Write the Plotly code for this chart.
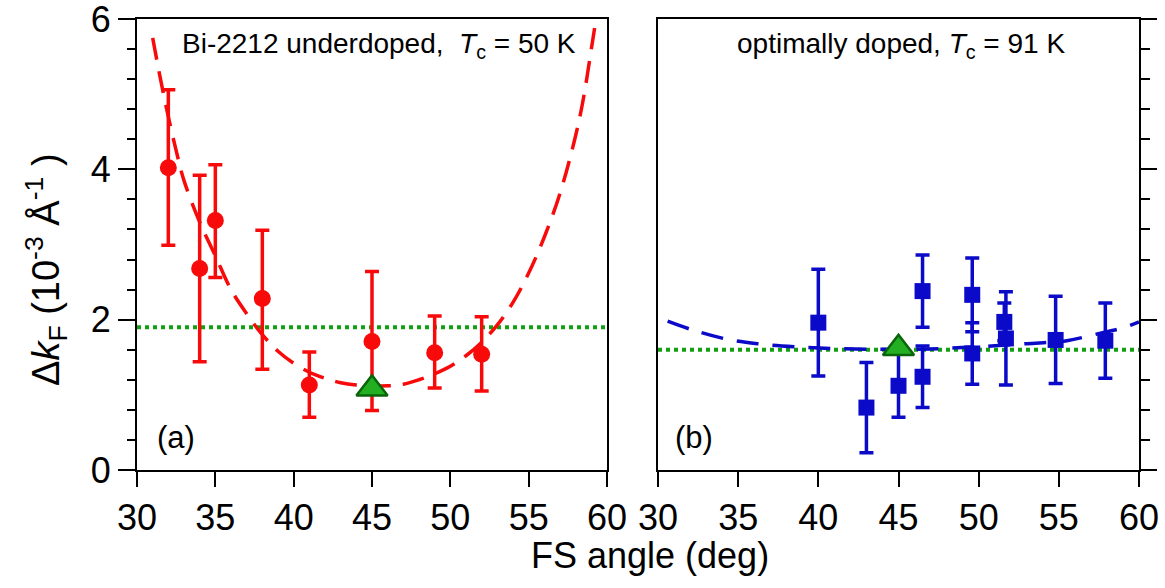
import plotly.graph_objects as go

# ---------------- data ----------------
# Panel (a): Bi-2212 underdoped, Tc = 50 K
ud_angle = [32, 34, 35, 38, 41, 45, 49, 52]
ud_dk = [4.02, 2.68, 3.32, 2.28, 1.13, 1.71, 1.56, 1.54]
ud_err_plus = [1.04, 1.24, 0.74, 0.91, 0.44, 0.93, 0.49, 0.50]
ud_err_minus = [1.03, 1.24, 0.76, 0.94, 0.43, 0.92, 0.47, 0.49]
ud_node_angle = [45]
ud_node_dk = [1.08]
ud_level = [1.9, 1.9]
ud_fit_angle = [31.0, 31.5, 32.0, 32.5, 33.0, 34.0, 35.0, 36.0, 37.0, 38.0, 39.0,
                40.0, 41.0, 42.0, 43.0, 44.0, 45.0, 46.0, 47.0, 48.0, 49.0, 50.0,
                51.0, 52.0, 53.0, 54.0, 55.0, 56.0, 57.0, 58.0, 58.5, 59.0, 59.3]
ud_fit_dk = [5.75, 5.2, 4.7, 4.25, 3.85, 3.3, 2.85, 2.4, 2.08, 1.8, 1.58,
             1.42, 1.3, 1.22, 1.16, 1.13, 1.12, 1.12, 1.14, 1.2, 1.28, 1.38,
             1.52, 1.7, 1.93, 2.23, 2.62, 3.1, 3.68, 4.45, 4.95, 5.6, 6.0]

# Panel (b): optimally doped, Tc = 91 K
op_angle = [40, 43, 45, 46.5, 46.5, 49.6, 49.6, 51.6, 51.7, 54.8, 57.9]
op_dk = [1.96, 0.83, 1.12, 2.38, 1.24, 2.33, 1.55, 1.97, 1.75, 1.73, 1.72]
op_err = [0.71, 0.60, 0.42, 0.48, 0.41, 0.49, 0.41, 0.25, 0.62, 0.58, 0.50]
op_node_angle = [45]
op_node_dk = [1.62]
op_level = [1.6, 1.6]
op_fit_angle = [30.6, 32.2, 34.3, 36.2, 38.5, 41.0, 44.0, 47.0, 50.0, 53.0,
                55.5, 57.1, 58.0, 59.0, 60.0]
op_fit_dk = [1.98, 1.86, 1.74, 1.68, 1.64, 1.615, 1.605, 1.61, 1.64, 1.68,
             1.72, 1.795, 1.84, 1.89, 1.97]

level_angle = [30, 60]
x_ticks = [30, 35, 40, 45, 50, 55, 60]
y_ticks = [0, 2, 4, 6]
y_minor = [0.4, 0.8, 1.2, 1.6, 2.4, 2.8, 3.2, 3.6, 4.4, 4.8, 5.2, 5.6]

# ---------------- style ----------------
RED = "#F80A0A"
BLUE = "#0A0AC8"
GREEN_DOT = "#12A012"
TRI_FILL = "#22B022"
TRI_LINE = "#0A640A"
FONT = "Liberation Sans, Arial, sans-serif"
W, H = 1165, 588

fig = go.Figure()

# Panel a
fig.add_trace(go.Scatter(x=level_angle, y=ud_level, mode="lines",
                         line=dict(color=GREEN_DOT, width=4, dash="4px,4px"),
                         xaxis="x", yaxis="y", showlegend=False))
fig.add_trace(go.Scatter(x=ud_fit_angle, y=ud_fit_dk, mode="lines",
                         line=dict(color=RED, width=3.5, dash="22px,12px", shape="spline"),
                         xaxis="x", yaxis="y", showlegend=False))
fig.add_trace(go.Scatter(x=ud_angle, y=ud_dk, mode="markers",
                         marker=dict(symbol="circle", size=17, color=RED),
                         error_y=dict(type="data", array=ud_err_plus, arrayminus=ud_err_minus,
                                      color=RED, thickness=3.5, width=7),
                         xaxis="x", yaxis="y", showlegend=False))
fig.add_trace(go.Scatter(x=ud_node_angle, y=ud_node_dk, mode="markers",
                         marker=dict(symbol="triangle-up", size=27, color=TRI_FILL,
                                     line=dict(color=TRI_LINE, width=2.5)),
                         xaxis="x", yaxis="y", showlegend=False))

# Panel b
fig.add_trace(go.Scatter(x=level_angle, y=op_level, mode="lines",
                         line=dict(color=GREEN_DOT, width=4, dash="4px,4px"),
                         xaxis="x2", yaxis="y2", showlegend=False))
fig.add_trace(go.Scatter(x=op_fit_angle, y=op_fit_dk, mode="lines",
                         line=dict(color=BLUE, width=3.5, dash="22px,14px", shape="spline"),
                         xaxis="x2", yaxis="y2", showlegend=False))
fig.add_trace(go.Scatter(x=op_angle, y=op_dk, mode="markers",
                         marker=dict(symbol="square", size=16, color=BLUE),
                         error_y=dict(type="data", array=op_err, color=BLUE,
                                      thickness=3.5, width=7),
                         xaxis="x2", yaxis="y2", showlegend=False))
fig.add_trace(go.Scatter(x=op_node_angle, y=op_node_dk, mode="markers",
                         marker=dict(symbol="triangle-up", size=27, color=TRI_FILL,
                                     line=dict(color=TRI_LINE, width=2.5)),
                         xaxis="x2", yaxis="y2", showlegend=False))

x_left, x_right = 137, 607
x2_left, x2_right = 658, 1139
y_top, y_bot = 19, 470


def px(xp):
    return xp / W


def py(yp):
    return 1 - yp / H


common_x = dict(range=[30, 60], tickvals=x_ticks, ticktext=[str(v) for v in x_ticks],
                ticks="outside", ticklen=15, tickwidth=2, tickcolor="black",
                showline=True, linecolor="black", linewidth=2, mirror=True,
                showgrid=False, zeroline=False, automargin=False,
                ticklabeloverflow="allow",
                tickfont=dict(family=FONT, size=36, color="black"))

fig.update_layout(
    width=W, height=H,
    margin=dict(l=0, r=0, t=0, b=0),
    paper_bgcolor="white", plot_bgcolor="white",
    xaxis=dict(domain=[x_left / W, x_right / W], anchor="y", **common_x),
    xaxis2=dict(domain=[x2_left / W, x2_right / W], anchor="y2", **common_x),
    yaxis=dict(domain=[1 - y_bot / H, 1 - y_top / H], anchor="x", range=[-0.0005, 6.0005],
               tickvals=y_ticks, ticktext=[str(v) for v in y_ticks],
               ticks="outside", ticklen=17, tickwidth=2, tickcolor="black",
               minor=dict(tickvals=y_minor, ticks="outside", ticklen=8, tickwidth=2,
                          tickcolor="black"),
               showline=True, linecolor="black", linewidth=2, mirror=True,
               showgrid=False, zeroline=False, automargin=False,
               ticklabeloverflow="allow",
               tickfont=dict(family=FONT, size=36, color="black")),
    yaxis2=dict(domain=[1 - y_bot / H, 1 - y_top / H], anchor="x2", range=[-0.0005, 6.0005],
                side="right", tickvals=y_ticks, showticklabels=False,
                ticks="outside", ticklen=16, tickwidth=2, tickcolor="black",
                minor=dict(tickvals=y_minor, ticks="outside", ticklen=9, tickwidth=2,
                           tickcolor="black"),
                showline=True, linecolor="black", linewidth=2, mirror=True,
                showgrid=False, zeroline=False, automargin=False),
    annotations=[
        dict(text="Bi-2212 underdoped,  <i>T</i><sub>c</sub> = 50 K", xref="paper", yref="paper",
             x=px(379), y=py(45), xanchor="center", yanchor="middle", showarrow=False,
             font=dict(family=FONT, size=28, color="black")),
        dict(text="optimally doped, <i>T</i><sub>c</sub> = 91 K", xref="paper", yref="paper",
             x=px(901), y=py(45), xanchor="center", yanchor="middle", showarrow=False,
             font=dict(family=FONT, size=28, color="black")),
        dict(text="(a)", xref="paper", yref="paper", x=px(155), y=py(437),
             xanchor="left", yanchor="middle", showarrow=False,
             font=dict(family=FONT, size=31, color="black")),
        dict(text="(b)", xref="paper", yref="paper", x=px(673), y=py(437),
             xanchor="left", yanchor="middle", showarrow=False,
             font=dict(family=FONT, size=31, color="black")),
        dict(text="Δ<i>k</i><sub>F</sub> (10<sup>-3</sup> Å<sup>-1</sup> )", xref="paper", yref="paper",
             x=px(46), y=py(270), xanchor="center", yanchor="middle", textangle=-90,
             showarrow=False, font=dict(family=FONT, size=38, color="black")),
        dict(text="FS angle (deg)", xref="paper", yref="paper",
             x=px(650), y=py(555), xanchor="center", yanchor="middle",
             showarrow=False, font=dict(family=FONT, size=36, color="black")),
    ],
)

fig.write_html("out.html", config={"displayModeBar": False},
               post_script="document.body.style.margin='0';")
